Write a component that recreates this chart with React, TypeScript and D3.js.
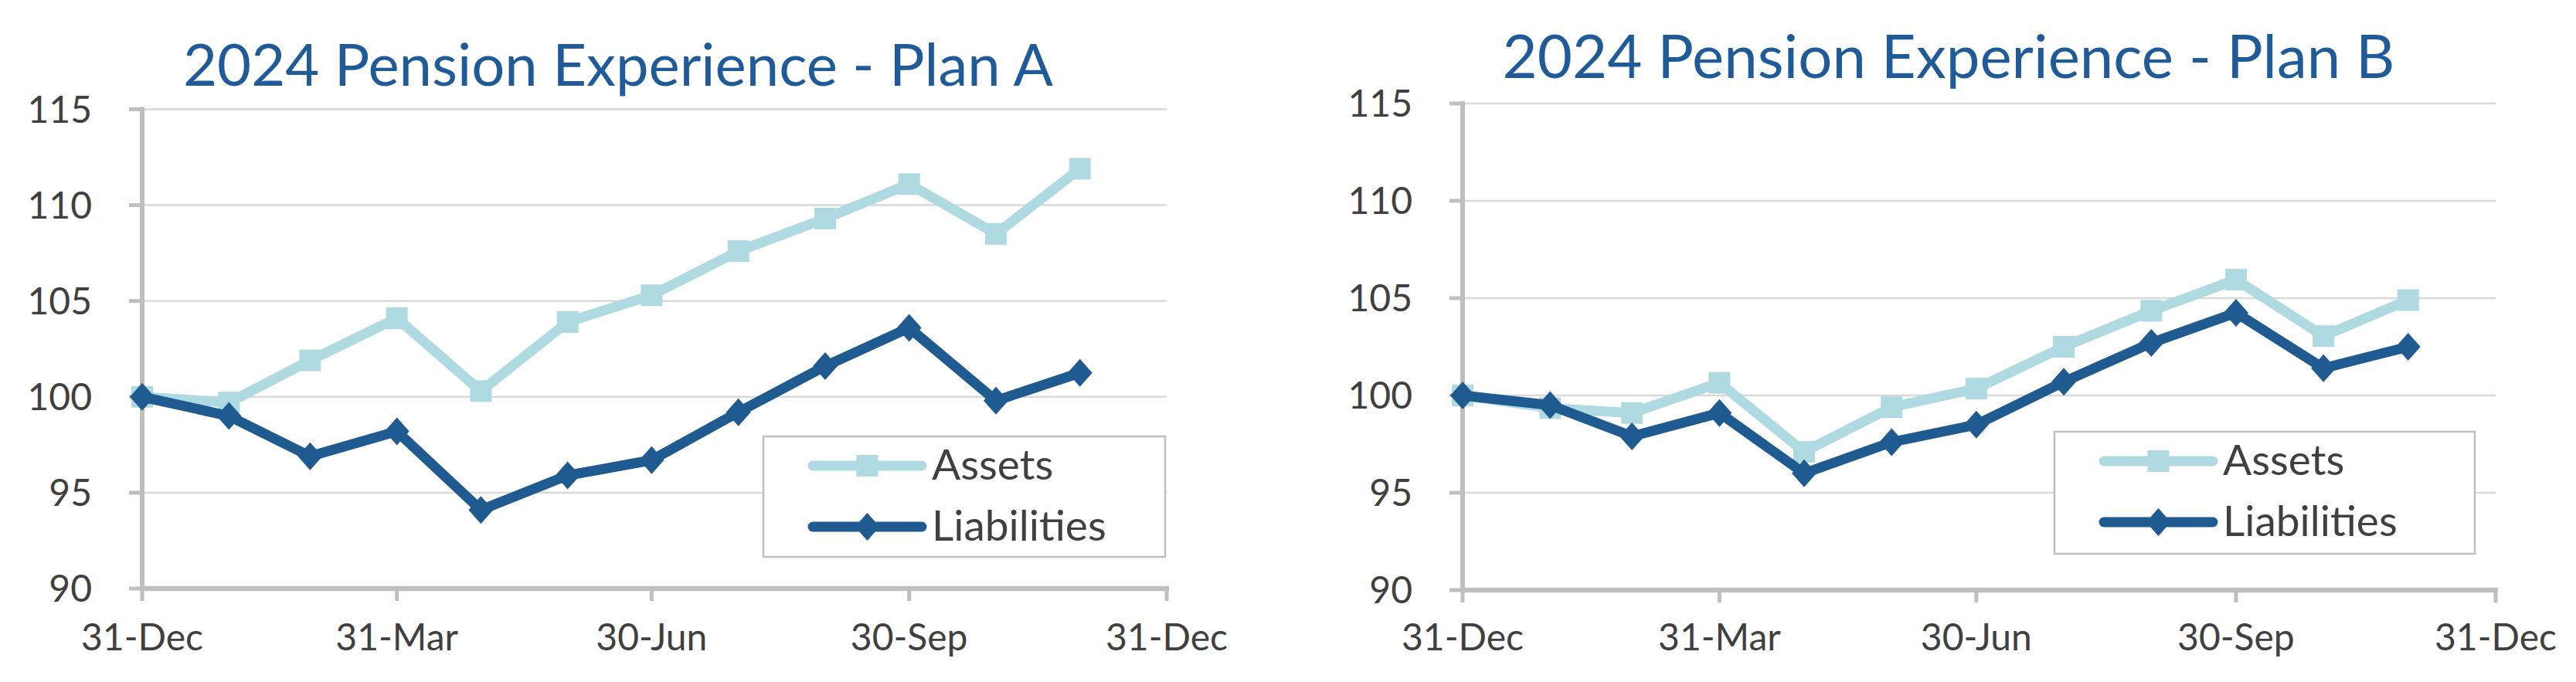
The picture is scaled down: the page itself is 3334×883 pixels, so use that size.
import React from "react";
import * as d3 from "d3";

const DATES = [
  "2023-12-31", "2024-01-31", "2024-02-29", "2024-03-31", "2024-04-30", "2024-05-31",
  "2024-06-30", "2024-07-31", "2024-08-31", "2024-09-30", "2024-10-31", "2024-11-30",
];

const PLAN_A_ASSETS = [100, 99.7, 101.9, 104.1, 100.3, 103.9, 105.3, 107.6, 109.3, 111.1, 108.5, 111.9];
const PLAN_A_LIABILITIES = [100, 99.0, 96.9, 98.2, 94.1, 95.9, 96.7, 99.2, 101.6, 103.6, 99.8, 101.25];

const PLAN_B_ASSETS = [100, 99.35, 99.1, 100.65, 97.1, 99.4, 100.35, 102.5, 104.35, 105.95, 103.05, 104.9];
const PLAN_B_LIABILITIES = [100, 99.5, 97.9, 99.1, 96.0, 97.6, 98.5, 100.7, 102.7, 104.25, 101.4, 102.5];

const Y_TICKS = [90, 95, 100, 105, 110, 115];
const X_TICKS = ["2023-12-31", "2024-03-31", "2024-06-30", "2024-09-30", "2024-12-31"];
const X_DOMAIN = ["2023-12-31", "2024-12-31"];
const SERIES_NAMES = ["Assets", "Liabilities"];

const ASSETS_COLOR = "#b0dae1";
const LIAB_COLOR = "#1f5a91";
const AXIS_COLOR = "#bfbfbf";
const GRID_COLOR = "#d9d9d9";
const TEXT_COLOR = "#404040";
const TITLE_COLOR = "#1f5b98";
const FONT = "Lato, 'Open Sans', sans-serif";

const parse = d3.utcParse("%Y-%m-%d");
const fmt = d3.utcFormat("%d-%b");

interface PanelProps {
  title: string;
  assets: number[];
  liabilities: number[];
  left: number;
  right: number;
  top: number;
  bottom: number;
  titleX: number;
  titleY: number;
  titleLen: number;
  titleSize: number;
  legend: { x: number; y: number; w: number; h: number };
}

function Panel(p: PanelProps) {
  const x = d3
    .scaleUtc()
    .domain(X_DOMAIN.map((d) => parse(d) as Date))
    .range([p.left, p.right]);
  const y = d3.scaleLinear().domain([90, 115]).range([p.bottom, p.top]);

  const dates = DATES.map((d) => parse(d) as Date);
  const line = d3
    .line<number>()
    .x((_, i) => x(dates[i]))
    .y((v) => y(v));

  const diamond = (cx: number, cy: number, rx: number, ry: number) =>
    `M${cx},${cy - ry}L${cx + rx},${cy}L${cx},${cy + ry}L${cx - rx},${cy}Z`;

  const lg = p.legend;
  const rows = [lg.y + 38, lg.y + 117];
  const sx0 = lg.x + 64;
  const sx1 = lg.x + 205;
  const smid = (sx0 + sx1) / 2;

  return (
    <g>
      <text
        x={p.titleX}
        y={p.titleY}
        textAnchor="middle"
        fontFamily={FONT}
        fontSize={p.titleSize}
        fill={TITLE_COLOR}
        textLength={p.titleLen}
        lengthAdjust="spacingAndGlyphs"
      >
        {p.title}
      </text>

      {/* gridlines */}
      {Y_TICKS.filter((t) => t !== 90).map((t) => (
        <line key={t} x1={p.left} x2={p.right} y1={y(t)} y2={y(t)} stroke={GRID_COLOR} strokeWidth={2.5} />
      ))}

      {/* y ticks + labels */}
      {Y_TICKS.map((t) => (
        <g key={t}>
          <line x1={p.left - 17} x2={p.left} y1={y(t)} y2={y(t)} stroke={AXIS_COLOR} strokeWidth={5} />
          <text
            x={p.left - 65}
            y={y(t)}
            dy="0.36em"
            textAnchor="end"
            fontFamily={FONT}
            fontSize={48}
            fill={TEXT_COLOR}
          >
            {t}
          </text>
        </g>
      ))}

      {/* x ticks + labels */}
      {X_TICKS.map((d) => {
        const dt = parse(d) as Date;
        return (
          <g key={d}>
            <line x1={x(dt)} x2={x(dt)} y1={p.bottom} y2={p.bottom + 16} stroke={AXIS_COLOR} strokeWidth={5} />
            <text x={x(dt)} y={842} textAnchor="middle" fontFamily={FONT} fontSize={48} fill={TEXT_COLOR}>
              {fmt(dt)}
            </text>
          </g>
        );
      })}

      {/* axes */}
      <line x1={p.left} x2={p.left} y1={p.top - 3} y2={p.bottom + 3} stroke={AXIS_COLOR} strokeWidth={6} />
      <line x1={p.left - 3} x2={p.right + 3} y1={p.bottom} y2={p.bottom} stroke={AXIS_COLOR} strokeWidth={6.5} />

      {/* assets */}
      <path d={line(p.assets) || ""} fill="none" stroke={ASSETS_COLOR} strokeWidth={13} strokeLinejoin="miter" />
      {p.assets.map((v, i) => (
        <rect key={i} x={x(dates[i]) - 14} y={y(v) - 14} width={28} height={28} fill={ASSETS_COLOR} />
      ))}

      {/* liabilities */}
      <path d={line(p.liabilities) || ""} fill="none" stroke={LIAB_COLOR} strokeWidth={13} strokeLinejoin="miter" />
      {p.liabilities.map((v, i) => (
        <path key={i} d={diamond(x(dates[i]), y(v), 16, 18)} fill={LIAB_COLOR} />
      ))}

      {/* legend */}
      <rect x={lg.x} y={lg.y} width={lg.w} height={lg.h} fill="#ffffff" stroke={AXIS_COLOR} strokeWidth={2.5} />
      <line x1={sx0} x2={sx1} y1={rows[0]} y2={rows[0]} stroke={ASSETS_COLOR} strokeWidth={13} strokeLinecap="round" />
      <rect x={smid - 14} y={rows[0] - 14} width={28} height={28} fill={ASSETS_COLOR} />
      <line x1={sx0} x2={sx1} y1={rows[1]} y2={rows[1]} stroke={LIAB_COLOR} strokeWidth={13} strokeLinecap="round" />
      <path d={diamond(smid, rows[1], 16, 18)} fill={LIAB_COLOR} />
      {SERIES_NAMES.map((n, i) => (
        <text key={n} x={lg.x + 218} y={rows[i] + 18} fontFamily={FONT} fontSize={55} fill={TEXT_COLOR}>
          {n}
        </text>
      ))}
    </g>
  );
}

export default function App() {
  return (
    <div style={{ position: "absolute", left: 0, top: 0 }}>
      <svg width={3334} height={883} style={{ display: "block", background: "#ffffff" }}>
        <Panel
          title="2024 Pension Experience - Plan A"
          assets={PLAN_A_ASSETS}
          liabilities={PLAN_A_LIABILITIES}
          left={184}
          right={1510}
          top={141.5}
          bottom={762}
          titleX={800}
          titleY={111}
          titleLen={1126}
          titleSize={75}
          legend={{ x: 988, y: 565, w: 520, h: 156 }}
        />
        <Panel
          title="2024 Pension Experience - Plan B"
          assets={PLAN_B_ASSETS}
          liabilities={PLAN_B_LIABILITIES}
          left={1893}
          right={3230}
          top={134}
          bottom={764}
          titleX={2522}
          titleY={101}
          titleLen={1155}
          titleSize={78}
          legend={{ x: 2659, y: 559, w: 544, h: 158 }}
        />
      </svg>
    </div>
  );
}
